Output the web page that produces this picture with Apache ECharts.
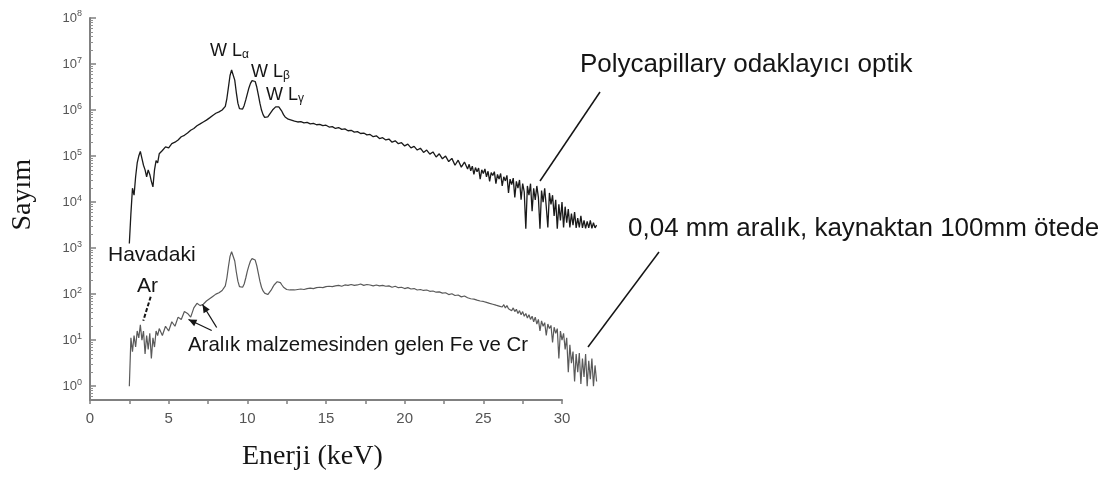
<!DOCTYPE html>
<html>
<head>
<meta charset="utf-8">
<script src="https://cdn.jsdelivr.net/npm/echarts@6/dist/echarts.min.js"></script>
<style>
html,body{margin:0;padding:0;background:#fff;}
#chart{width:1119px;height:482px;}
</style>
</head>
<body>
<div id="chart"></div>
<script>
// Energy (keV) sampling positions
const energies = [
  2.5,2.6,2.7,2.8,2.9,3.0,3.1,3.2,3.3,3.4,3.5,3.6,3.7,3.8,3.9,4.0,4.1,4.2,4.3,4.4,
  4.6,4.8,5.0,5.2,5.4,5.6,5.8,6.0,6.2,6.4,6.6,6.8,7.0,7.2,7.4,7.6,7.8,8.0,8.2,
  8.4,8.5,8.6,8.7,8.8,8.9,9.0,9.1,9.2,9.3,9.4,9.5,9.6,9.7,9.8,9.9,10.0,10.1,10.2,10.3,10.4,10.5,
  10.6,10.7,10.8,10.9,11.0,11.1,11.2,11.3,11.4,11.5,11.6,11.7,11.8,11.9,12.0,12.1,12.2,12.3,12.4,12.5,12.6,12.7,12.8,
  13.0,13.2,13.4,13.6,13.8,14.0,14.2,14.4,14.6,14.8,15.0,15.2,15.4,15.6,15.8,16.0,16.2,16.4,16.6,16.8,
  17.0,17.2,17.4,17.6,17.8,18.0,18.2,18.4,18.6,18.8,19.0,19.2,19.4,19.6,19.8,20.0,20.2,20.4,20.6,20.8,
  21.0,21.2,21.4,21.6,21.8,22.0,22.2,22.4,22.6,22.8,23.0,23.2,23.4,23.6,23.8,24.0,
  24.1,24.2,24.3,24.4,24.5,24.6,24.7,24.8,24.9,25.0,25.1,25.2,25.3,25.4,25.5,25.6,25.7,25.8,25.9,26.0,
  26.1,26.2,26.3,26.4,26.5,26.6,26.7,26.8,26.9,27.0,27.1,27.2,27.3,27.4,27.5,27.6,27.7,27.8,27.9,28.0,
  28.1,28.2,28.3,28.4,28.5,28.6,28.7,28.8,28.9,29.0,29.1,29.2,29.3,29.4,29.5,29.6,29.7,29.8,29.9,30.0,
  30.1,30.2,30.3,30.4,30.5,30.6,30.7,30.8,30.9,31.0,31.1,31.2,31.3,31.4,31.5,31.6,31.7,31.8,31.9,32.0,
  32.1,32.2
];

// Counts, polycapillary focusing optic (upper spectrum)
const polycapillaryCounts = [
  1.26e3,5.62e3,2.0e4,1.41e4,3.55e4,7.08e4,1.0e5,1.26e5,8.91e4,6.31e4,5.01e4,3.55e4,5.01e4,3.98e4,2.82e4,2.14e4,5.01e4,7.94e4,7.08e4,1.12e5,
  1.32e5,1.58e5,1.51e5,1.86e5,2.0e5,2.24e5,2.63e5,2.82e5,3.16e5,3.63e5,3.98e5,4.57e5,5.01e5,5.5e5,6.03e5,6.76e5,7.59e5,8.51e5,9.12e5,
  1.0e6,1.07e6,1.2e6,1.78e6,3.16e6,5.62e6,7.41e6,7.08e6,4.47e6,2.4e6,1.41e6,1.07e6,1.0e6,1.05e6,1.26e6,1.66e6,2.24e6,3.02e6,3.8e6,4.37e6,4.57e6,4.17e6,
  3.16e6,2.14e6,1.41e6,1.0e6,7.94e5,6.92e5,6.76e5,7.08e5,7.94e5,8.91e5,1.0e6,1.1e6,1.17e6,1.2e6,1.17e6,1.07e6,9.33e5,7.94e5,7.08e5,6.61e5,6.31e5,6.17e5,6.03e5,
  5.75e5,5.5e5,5.62e5,5.25e5,5.37e5,5.01e5,5.13e5,4.79e5,4.9e5,4.57e5,4.68e5,4.27e5,4.37e5,3.98e5,4.17e5,3.8e5,3.89e5,3.55e5,3.63e5,3.31e5,
  3.39e5,3.09e5,3.16e5,2.88e5,2.95e5,2.63e5,2.75e5,2.4e5,2.51e5,2.24e5,2.34e5,2.0e5,2.14e5,1.86e5,1.95e5,1.66e5,1.82e5,1.51e5,1.62e5,1.35e5,
  1.48e5,1.2e5,1.35e5,1.1e5,1.23e5,9.55e4,1.12e5,8.71e4,1.0e5,7.59e4,8.91e4,6.31e4,8.13e4,5.75e4,7.41e4,5.25e4,
  6.61e4,4.79e4,6.03e4,3.98e4,5.62e4,4.57e4,5.5e4,3.16e4,5.01e4,4.17e4,5.25e4,3.55e4,4.68e4,2.82e4,4.37e4,3.8e4,4.57e4,2.51e4,3.98e4,3.16e4,
  4.17e4,2.24e4,3.55e4,2.88e4,3.8e4,1.58e4,3.16e4,2.4e4,3.31e4,1.26e4,2.82e4,2.0e4,3.02e4,1.12e4,2.51e4,1.66e4,2.63e3,2.24e4,1.41e4,2.51e4,
  6.31e3,2.0e4,1.12e4,2.24e4,1.26e4,2.63e3,1.78e4,1.0e4,2.0e4,7.94e3,2.82e3,1.58e4,8.91e3,1.41e4,5.01e3,1.12e4,2.63e3,8.91e3,3.98e3,1.0e4,
  2.82e3,7.94e3,3.55e3,7.08e3,2.82e3,5.62e3,3.16e3,6.03e3,2.75e3,4.47e3,2.82e3,5.01e3,2.75e3,3.98e3,2.69e3,3.8e3,2.75e3,3.98e3,2.69e3,3.55e3,
  2.75e3,3.16e3
];

// Counts, 0.04 mm slit at 100 mm from the source (lower spectrum)
const slitCounts = [
  1,11.2,5.62,12.6,7.08,15.8,11.2,21.4,10,15.8,5.01,12.6,6.31,14.1,3.98,11.2,7.08,15.8,12.6,17.8,
  12.6,20,15.8,25.1,20,31.6,28.2,41.7,38,31.6,50.1,63.1,56.2,60.3,70.8,79.4,89.1,100,107,
  120,132,151,224,398,661,832,794,525,302,191,145,135,141,166,224,316,417,525,589,603,550,
  417,282,191,141,117,105,100,97.7,105,120,138,158,174,186,186,178,158,141,132,126,123,123,126,
  123,126,129,126,132,135,132,138,141,138,145,148,145,151,155,148,158,155,162,155,
  158,166,155,162,158,151,158,151,155,148,151,141,148,138,141,132,138,129,132,123,
  126,120,123,115,117,110,112,105,107,97.7,102,93.3,95.5,87.1,91.2,83.2,
  87.1,79.4,85.1,77.6,83.2,74.1,79.4,70.8,75.9,69.2,74.1,66.1,70.8,63.1,69.2,60.3,66.1,57.5,63.1,55,
  60.3,52.5,58.9,50.1,56.2,47.9,52.5,43.7,50.1,41.7,46.8,38,43.7,35.5,41.7,33.1,38,30.2,35.5,28.2,
  33.1,25.1,31.6,22.4,28.2,15.8,26.3,20,24,12.6,22.4,17.8,20.9,8.91,19.1,14.1,17.8,3.98,15.8,10,
  14.1,6.31,11.2,2,7.94,3.16,5.62,1.26,5.01,2,5.25,1.12,3.98,1.58,5.01,1,3.55,1.41,3.98,1,
  2.82,1.26
];

const xTickValues = [0, 5, 10, 15, 20, 25, 30];
const yDecades = [0, 1, 2, 3, 4, 5, 6, 7, 8];

// Axis frame (visible) and data extent (the recorded spectra run past 30 keV)
const X_AXIS_MAX = 30;
const X_DATA_MAX = 32.4;
const GRID_LEFT = 90, GRID_RIGHT = 557, GRID_TOP = 18, GRID_BOTTOM = 82;
const CHART_W = 1119;
const axisWidth = CHART_W - GRID_LEFT - GRID_RIGHT;
const dataGridRight = CHART_W - GRID_LEFT - axisWidth * X_DATA_MAX / X_AXIS_MAX;

const chart = echarts.init(document.getElementById('chart'), null, {renderer: 'canvas'});

function arrowHead(x1, y1, x2, y2, size) {
  const a = Math.atan2(y2 - y1, x2 - x1);
  const w = size * 0.45;
  const bx = x2 - size * Math.cos(a), by = y2 - size * Math.sin(a);
  return [[x2, y2], [bx + w * Math.sin(a), by - w * Math.cos(a)], [bx - w * Math.sin(a), by + w * Math.cos(a)]];
}

const annFont = 'Liberation Sans, Arial, sans-serif';
const serif = 'Liberation Serif, Times New Roman, serif';
const ink = '#151515';

const arrows = [
  [211.7, 330.5, 188.5, 319.5],
  [216.7, 327.5, 202.5, 304.5]
];

const subRich = {a:{font:'18px ' + annFont, fill: ink}, b:{font:'12px ' + annFont, fill: ink, padding:[8,0,0,0]}};

const graphics = [
  {type:'text', left: 9, top: 159, rotation: Math.PI/2, z: 10,
   style:{text:'Sayım', font:'28px ' + serif, fill: ink}},
  {type:'text', left: 242, top: 443, z: 10,
   style:{text:'Enerji (keV)', font:'28px ' + serif, fill: ink}},
  {type:'text', left: 580, top: 52, z: 10,
   style:{text:'Polycapillary odaklayıcı optik', font:'26px ' + annFont, fill: ink}},
  {type:'line', z: 10, shape:{x1: 600, y1: 92, x2: 540, y2: 181}, style:{stroke: ink, lineWidth: 1.5}},
  {type:'text', left: 628, top: 216, z: 10,
   style:{text:'0,04 mm aralık, kaynaktan 100mm ötede', font:'26px ' + annFont, fill: ink}},
  {type:'line', z: 10, shape:{x1: 659, y1: 252, x2: 588, y2: 347}, style:{stroke: ink, lineWidth: 1.5}},
  {type:'text', left: 108, top: 245, z: 10,
   style:{text:'Havadaki', font:'21px ' + annFont, fill: ink}},
  {type:'text', left: 137, top: 276, z: 10,
   style:{text:'Ar', font:'21px ' + annFont, fill: ink}},
  {type:'line', z: 10, shape:{x1: 150.7, y1: 296.7, x2: 143.3, y2: 320.7}, style:{stroke: ink, lineWidth: 2, lineDash:[4,2]}},
  {type:'text', left: 188, top: 335, z: 10,
   style:{text:'Aralık malzemesinden gelen Fe ve Cr', font:'20.4px ' + annFont, fill: ink}},
  {type:'text', left: 210, top: 42, z: 10, style:{text:'{a|W L}{b|α}', rich: subRich}},
  {type:'text', left: 251, top: 63, z: 10, style:{text:'{a|W L}{b|β}', rich: subRich}},
  {type:'text', left: 266, top: 86, z: 10, style:{text:'{a|W L}{b|γ}', rich: subRich}}
];
arrows.forEach(function (p) {
  graphics.push({type:'line', z: 10, shape:{x1:p[0], y1:p[1], x2:p[2], y2:p[3]}, style:{stroke: ink, lineWidth: 1.3}});
  graphics.push({type:'polygon', z: 10, shape:{points: arrowHead(p[0], p[1], p[2], p[3], 8)}, style:{fill: ink}});
});

function isDecade(v) {
  const l = Math.log10(v);
  return Math.abs(l - Math.round(l)) < 1e-6 && yDecades.indexOf(Math.round(l)) >= 0;
}

const axisGrey = '#808080';
const labelGrey = '#555';

chart.setOption({
  animation: false,
  backgroundColor: '#ffffff',
  grid: [
    {left: GRID_LEFT, right: GRID_RIGHT, top: GRID_TOP, bottom: GRID_BOTTOM},
    {left: GRID_LEFT, right: dataGridRight, top: GRID_TOP, bottom: GRID_BOTTOM}
  ],
  xAxis: [
    {
      gridIndex: 0, type: 'value', min: 0, max: X_AXIS_MAX, interval: 2.5,
      axisLine: {show: true, lineStyle: {color: axisGrey, width: 2}},
      axisTick: {show: true, length: 4, lineStyle: {color: axisGrey, width: 1.5}},
      splitLine: {show: false},
      axisLabel: {
        margin: 11, fontSize: 15, color: labelGrey, fontFamily: annFont,
        formatter: function (v) { return xTickValues.indexOf(v) >= 0 ? String(v) : ''; }
      }
    },
    {gridIndex: 1, type: 'value', min: 0, max: X_DATA_MAX, show: false}
  ],
  yAxis: [
    {
      gridIndex: 0, type: 'log', logBase: 10, min: 0.5, max: 1e8,
      axisLine: {show: true, lineStyle: {color: axisGrey, width: 2}},
      axisTick: {show: true, inside: true, length: 6, lineStyle: {color: axisGrey, width: 1.5}},
      minorTick: {show: true, splitNumber: 9, length: 3, lineStyle: {color: '#909090', width: 1}},
      splitLine: {show: false},
      axisLabel: {
        margin: 8, color: labelGrey,
        formatter: function (v) {
          if (!isDecade(v)) return '';
          return '{b|10}{s|' + Math.round(Math.log10(v)) + '}';
        },
        rich: {
          b: {fontSize: 13, fontFamily: annFont, color: labelGrey},
          s: {fontSize: 9, fontFamily: annFont, color: labelGrey, padding: [0, 0, 8, 0]}
        }
      }
    },
    {gridIndex: 1, type: 'log', logBase: 10, min: 0.5, max: 1e8, show: false}
  ],
  series: [
    {
      name: 'Polycapillary', type: 'line', xAxisIndex: 1, yAxisIndex: 1,
      showSymbol: false, clip: false,
      lineStyle: {color: '#1a1a1a', width: 1.3},
      data: energies.map(function (e, i) { return [e, polycapillaryCounts[i]]; })
    },
    {
      name: 'Slit', type: 'line', xAxisIndex: 1, yAxisIndex: 1,
      showSymbol: false, clip: false,
      lineStyle: {color: '#5a5a5a', width: 1.2},
      data: energies.map(function (e, i) { return [e, slitCounts[i]]; })
    }
  ],
  graphic: graphics
});
</script>
</body>
</html>
